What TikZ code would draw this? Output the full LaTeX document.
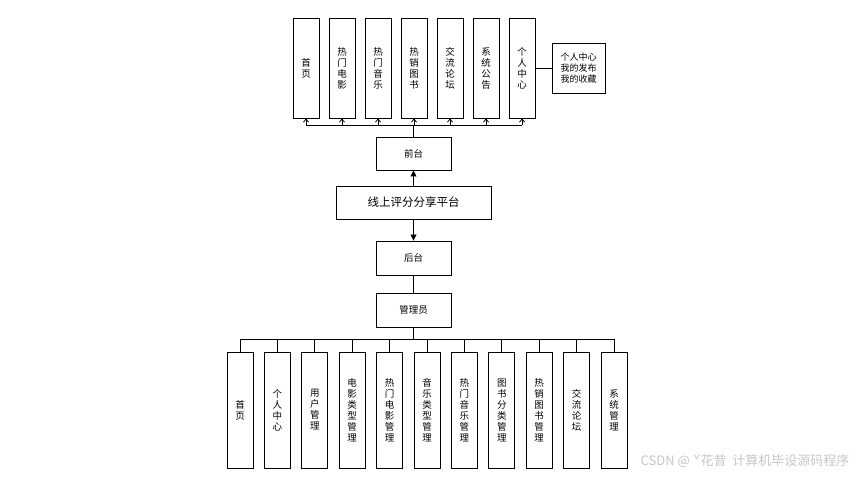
\documentclass[tikz,border=0pt]{standalone}
\usepackage{fontspec}
\setmainfont{Noto Sans CJK SC}
\usetikzlibrary{arrows.meta}
\begin{document}
\begin{tikzpicture}[x=1pt,y=-1pt,
 box/.style={draw,line width=0.9pt,inner sep=0pt,font=\fontsize{9.5}{11}\selectfont},
 ln/.style={line width=0.8pt},
 oa/.style={ln,-{Straight Barb[length=3pt,width=5pt]}},
 fa/.style={ln,-{Triangle[length=6pt,width=6pt]}}]
\useasboundingbox (0,0) rectangle (868,480);
% top items
\foreach \i/\t in {0/首\\页,1/热\\门\\电\\影,2/热\\门\\音\\乐,3/热\\销\\图\\书,4/交\\流\\论\\坛,5/系\\统\\公\\告,6/个\\人\\中\\心}{
  \node[box,minimum width=26pt,minimum height=100pt,align=center] (t\i) at ({306+36*\i},68) {\t};
}
\node[box,minimum width=53pt,minimum height=50pt,align=center,font=\fontsize{9}{11}\selectfont] (side) at (578.5,68) {个人中心\\我的发布\\我的收藏};
\draw[ln] (t6.east) -- (side.west);
\node[box,minimum width=75pt,minimum height=33pt] (front) at (413.5,153.5) {前台};
\node[box,minimum width=155pt,minimum height=33pt,font=\fontsize{11.5}{13}\selectfont] (plat) at (413.5,202.5) {线上评分分享平台};
\node[box,minimum width=75pt,minimum height=34pt] (back) at (413.5,258) {后台};
\node[box,minimum width=75pt,minimum height=34pt] (adm) at (413.5,310) {管理员};
\coordinate (tb) at (413.5,125);
\draw[ln] (front.north) -- (tb);
\draw[ln] (t0.south|-tb) -- (t6.south|-tb);
\foreach \i in {0,...,6}{\draw[oa] (t\i.south|-tb) -- (t\i.south);}
\draw[fa] (plat.north) -- (front.south);
\draw[fa] (plat.south) -- (back.north);
\draw[ln] (back.south) -- (adm.north);
% bottom items
\foreach \i/\t in {0/首\\页,1/个\\人\\中\\心,2/用\\户\\管\\理,3/电\\影\\类\\型\\管\\理,4/热\\门\\电\\影\\管\\理,5/音\\乐\\类\\型\\管\\理,6/热\\门\\音\\乐\\管\\理,7/图\\书\\分\\类\\管\\理,8/热\\销\\图\\书\\管\\理,9/交\\流\\论\\坛,10/系\\统\\管\\理}{
  \node[box,minimum width=26pt,minimum height=116pt,align=center] (b\i) at ({240+37.4*\i},410) {\t};
}
\coordinate (bb) at (413.5,339);
\draw[ln] (adm.south) -- (bb);
\draw[ln] (b0.north|-bb) -- (b10.north|-bb);
\foreach \i in {0,...,10}{\draw[ln] (b\i.north|-bb) -- (b\i.north);}
\node[text=gray!45,font=\fontsize{13}{15}\selectfont,anchor=east] (wm) at (853,461) {CSDN @ ˇ花昔\ \ 计算机毕设源码程序};
\end{tikzpicture}
\end{document}
